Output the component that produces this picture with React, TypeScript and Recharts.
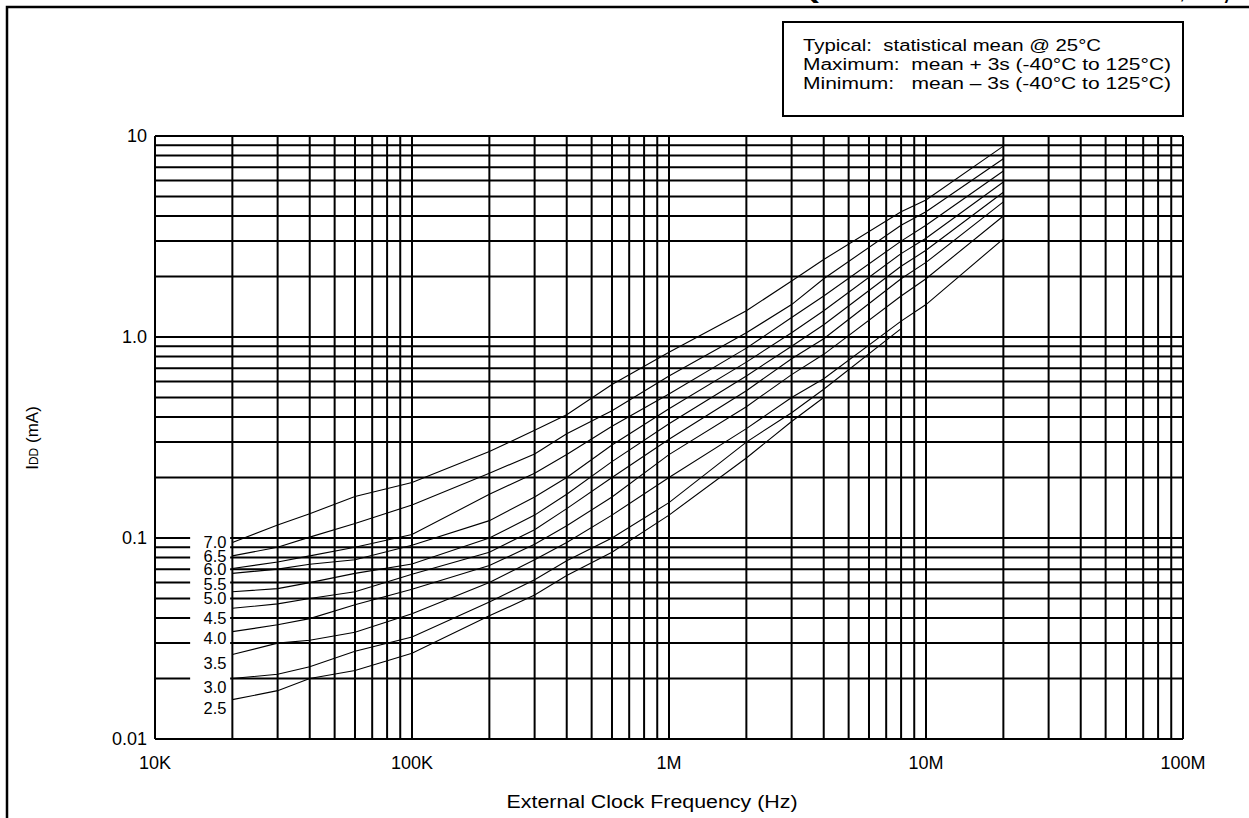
import React from 'react';
import { LineChart, Line, XAxis, YAxis, CartesianGrid, ReferenceArea } from 'recharts';

// ---- data ----
const freqs = [2e4, 3e4, 4e4, 6e4, 1e5, 2e5, 3e5, 4e5, 6e5, 1e6, 2e6, 3e6, 4e6, 8e6, 1e7, 2e7];

const idd70 = [0.095, 0.116, 0.132, 0.161, 0.189, 0.269, 0.344, 0.41, 0.58, 0.84, 1.35, 1.9, 2.43, 4.2, 4.8, 8.9];
const idd65 = [0.0815, 0.09, 0.101, 0.118, 0.146, 0.21, 0.262, 0.33, 0.43, 0.64, 1.05, 1.45, 1.95, 3.6, 4.2, 7.7];
const idd60 = [0.0705, 0.076, 0.0815, 0.09, 0.104, 0.165, 0.21, 0.26, 0.36, 0.52, 0.88, 1.25, 1.6, 3.0, 3.6, 6.7];
const idd55 = [0.0667, 0.07, 0.074, 0.078, 0.092, 0.122, 0.16, 0.2, 0.29, 0.44, 0.75, 1.05, 1.35, 2.6, 3.1, 5.9];
const idd50 = [0.054, 0.056, 0.06, 0.0667, 0.0743, 0.1, 0.13, 0.165, 0.24, 0.37, 0.64, 0.9, 1.15, 2.25, 2.7, 5.25];
const idd45 = [0.0447, 0.047, 0.05, 0.054, 0.066, 0.085, 0.11, 0.14, 0.2, 0.31, 0.54, 0.78, 0.98, 1.95, 2.35, 4.7];
const idd40 = [0.0342, 0.037, 0.0397, 0.0466, 0.0556, 0.073, 0.093, 0.115, 0.16, 0.26, 0.45, 0.65, 0.82, 1.6, 1.95, 4.0];
const idd35 = [0.0263, 0.03, 0.031, 0.034, 0.042, 0.06, 0.078, 0.095, 0.13, 0.2, 0.35, 0.5, 0.62, 1.2, 1.45, 3.08];
const idd30 = [0.02, 0.021, 0.0229, 0.0273, 0.0322, 0.048, 0.062, 0.077, 0.1, 0.15, 0.3, 0.42, 0.55, 1.1, null, null];
const idd25 = [0.0157, 0.0174, 0.02, 0.0219, 0.0267, 0.041, 0.052, 0.065, 0.085, 0.13, 0.25, 0.38, 0.5, null, null, null];

const seriesKeys = ['v70', 'v65', 'v60', 'v55', 'v50', 'v45', 'v40', 'v35', 'v30', 'v25'];
const seriesValues = [idd70, idd65, idd60, idd55, idd50, idd45, idd40, idd35, idd30, idd25];
const vddLabels = ['7.0', '6.5', '6.0', '5.5', '5.0', '4.5', '4.0', '3.5', '3.0', '2.5'];

const xDecades = [1e4, 1e5, 1e6, 1e7];
const xDecadeLabels = ['10K', '100K', '1M', '10M', '100M'];
const yDecades = [0.01, 0.1, 1];
const yDecadeLabels = ['0.01', '0.1', '1.0', '10'];
const mantissas = [1, 2, 3, 4, 5, 6, 7, 8, 9];

const legendLines = [
  'Typical:  statistical mean @ 25°C',
  'Maximum:  mean + 3s (-40°C to 125°C)',
  'Minimum:   mean – 3s (-40°C to 125°C)',
];

const xTicks = [...xDecades.flatMap((d) => mantissas.map((m) => m * d)), 1e8];
const yTicks = [...yDecades.flatMap((d) => mantissas.map((m) => +(m * d).toPrecision(3))), 10];
const xMajor = [...xDecades, 1e8];
const yMajor = [...yDecades, 10];

const chartData = freqs.map((f, i) => {
  const row: Record<string, number | null> = { f };
  seriesKeys.forEach((k, j) => {
    row[k] = seriesValues[j][i];
  });
  return row;
});

// ---- layout (pixels) ----
const W = 1249;
const H = 818;
const labelYs = [541.7, 556, 569, 584, 598, 617.7, 638.3, 663.3, 686.7, 708.3];
const legendYs = [51, 70, 89];
const legendLengths = [298, 368, 368];
const FONT = '"Liberation Sans", Arial, sans-serif';

const xFmt = (v: number) => {
  const i = xMajor.findIndex((m) => Math.abs(m - v) / m < 1e-6);
  return i >= 0 ? xDecadeLabels[i] : '';
};
const yFmt = (v: number) => {
  const i = yMajor.findIndex((m) => Math.abs(m - v) / m < 1e-6);
  return i >= 0 ? yDecadeLabels[i] : '';
};

export default function App() {
  return (
    <div style={{ position: 'absolute', left: 0, top: 0, width: W, height: H, background: '#fff', fontFamily: FONT }}>
      <LineChart
        width={W}
        height={H}
        data={chartData}
        margin={{ top: 136, right: 66, bottom: 49, left: 95 }}
      >
        <CartesianGrid stroke="#000" strokeWidth={2} fill="none" />
        <XAxis
          dataKey="f"
          type="number"
          scale="log"
          domain={[1e4, 1e8]}
          ticks={xTicks}
          interval={0}
          tickFormatter={xFmt}
          tickLine={false}
          axisLine={{ stroke: '#000', strokeWidth: 2 }}
          tickMargin={11}
          height={30}
          allowDataOverflow
          tick={{ fill: '#000', fontSize: 18, fontFamily: FONT }}
        />
        <YAxis
          type="number"
          scale="log"
          domain={[0.01, 10]}
          ticks={yTicks}
          interval={0}
          tickFormatter={yFmt}
          tickLine={false}
          axisLine={{ stroke: '#000', strokeWidth: 2 }}
          width={60}
          allowDataOverflow
          tick={{ fill: '#000', fontSize: 18, fontFamily: FONT }}
        />
        <ReferenceArea x1={13700} x2={19600} y1={0.0104} y2={0.107} fill="#fff" fillOpacity={1} stroke="none" ifOverflow="hidden" />
        {seriesKeys.map((k) => (
          <Line
            key={k}
            dataKey={k}
            type="linear"
            stroke="#000"
            strokeWidth={1.1}
            dot={false}
            isAnimationActive={false}
            connectNulls={false}
          />
        ))}
      </LineChart>
      <svg width={W} height={H} style={{ position: 'absolute', left: 0, top: 0, pointerEvents: 'none' }}>
        <text x={795} y={-6} textAnchor="end" fontSize={24} fontWeight="bold" fontFamily={FONT}>
          TYPICAL IDD vs. FREQUENCY
        </text>
        <text x={806} y={-2.5} fontSize={24} fontWeight="bold" fontFamily={FONT} textLength={372} lengthAdjust="spacingAndGlyphs">
          (EXTERNAL CLOCK
        </text>
        <text x={1180} y={-2.5} fontSize={24} fontWeight="bold" fontFamily={FONT} textLength={50} lengthAdjust="spacingAndGlyphs">
          , 25°C)
        </text>
        <path d={`M7,${H} L7,7 L${W},7`} fill="none" stroke="#000" strokeWidth={2.5} />
        <rect x={783} y={22} width={400} height={94} fill="#fff" stroke="#000" strokeWidth={2} />
        {legendLines.map((t, i) => (
          <text
            key={t}
            x={803}
            y={legendYs[i]}
            fontSize={16}
            fontFamily={FONT}
            fill="#000"
            textLength={legendLengths[i]}
            lengthAdjust="spacingAndGlyphs"
            style={{ whiteSpace: 'pre' }}
          >
            {t}
          </text>
        ))}
        {vddLabels.map((t, i) => (
          <text key={t} x={215} y={labelYs[i]} dy="0.36em" textAnchor="middle" fontSize={16.5} fontFamily={FONT} fill="#000">
            {t}
          </text>
        ))}
        <text transform="translate(38,438) rotate(-90)" textAnchor="middle" fontSize={17} fontFamily={FONT} fill="#000">
          I<tspan fontSize={12}>DD</tspan> (mA)
        </text>
        <text x={652} y={808} textAnchor="middle" fontSize={18} fontFamily={FONT} fill="#000" textLength={291} lengthAdjust="spacingAndGlyphs">
          External Clock Frequency (Hz)
        </text>
      </svg>
    </div>
  );
}
